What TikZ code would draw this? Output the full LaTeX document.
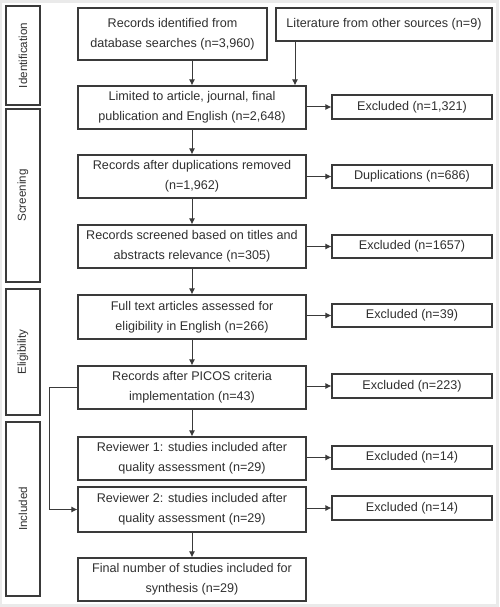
\documentclass[tikz,border=0pt]{standalone}
\usepackage{fontspec}
\setmainfont{Liberation Sans}
\usetikzlibrary{arrows.meta}
\definecolor{ln}{HTML}{3A3A3A}
\definecolor{tx}{HTML}{303030}
\definecolor{bg}{HTML}{EAEAEA}
\tikzset{
  box/.style={draw=ln, line width=1.1pt, fill=white, text=tx, align=center, inner sep=0pt,
    font=\fontsize{12.6}{20}\selectfont},
  phase/.style={draw=ln, line width=1.1pt, fill=white, text=tx, inner sep=0pt,
    font=\fontsize{11.6}{14}\selectfont},
  arr/.style={draw=ln, line width=1pt, -{Latex[length=6pt,width=6pt]}},
}
\begin{document}
\begin{tikzpicture}[x=1pt,y=-1pt]
\fill[bg] (0,0) rectangle (499,607);
\fill[white] (2,3) rectangle (496,604);
\useasboundingbox (0,0) rectangle (499,607);
% phase labels
\node[phase, minimum width=34pt, minimum height=99pt] (ph1) at (23,55.5) {};
\node[rotate=90, text=tx, font=\fontsize{11.6}{14}\selectfont] (ph1t) at (ph1) {Identification};
\node[phase, minimum width=34pt, minimum height=173pt] (ph2) at (23,195.5) {};
\node[rotate=90, text=tx, font=\fontsize{11.6}{14}\selectfont] (ph2t) at (ph2) {Screening};
\node[phase, minimum width=34pt, minimum height=126pt] (ph3) at (23,352) {};
\node[rotate=90, text=tx, font=\fontsize{11.6}{14}\selectfont] (ph3t) at (ph3) {Eligibility};
\node[phase, minimum width=34pt, minimum height=174pt] (ph4) at (23,509) {};
\node[rotate=90, text=tx, font=\fontsize{11.6}{14}\selectfont] (ph4t) at (ph4) {Included};
% main column
\node[box, minimum width=189pt, minimum height=52pt] (b1) at (172.5,34) {Records identified from\\database searches (n=3,960)};
\node[box, minimum width=216pt, minimum height=33pt] (lit) at (384,24.5) {Literature from other sources (n=9)};
\node[box, minimum width=228pt, minimum height=43pt] (b2) at (192,107.5) {Limited to article, journal, final\\publication and English (n=2,648)};
\node[box, minimum width=228pt, minimum height=43pt] (b3) at (192,176.5) {Records after duplications removed\\(n=1,962)};
\node[box, minimum width=228pt, minimum height=43pt] (b4) at (192,246.5) {Records screened based on titles and\\abstracts relevance (n=305)};
\node[box, minimum width=228pt, minimum height=44pt] (b5) at (192,317) {Full text articles assessed for\\eligibility in English (n=266)};
\node[box, minimum width=228pt, minimum height=43pt] (b6) at (192,387.5) {Records after PICOS criteria\\implementation (n=43)};
\node[box, minimum width=228pt, minimum height=43pt] (b7) at (192,458.5) {Reviewer 1: studies included after\\quality assessment (n=29)};
\node[box, minimum width=228pt, minimum height=45pt] (b8) at (192,509.5) {Reviewer 2: studies included after\\quality assessment (n=29)};
\node[box, minimum width=228pt, minimum height=43pt] (b9) at (192,579.5) {Final number of studies included for\\synthesis (n=29)};
% excluded column
\node[box, minimum width=160pt, minimum height=24pt] (e2) at (412,107) {Excluded (n=1,321)};
\node[box, minimum width=160pt, minimum height=23pt] (e3) at (412,176.5) {Duplications (n=686)};
\node[box, minimum width=160pt, minimum height=23pt] (e4) at (412,246.5) {Excluded (n=1657)};
\node[box, minimum width=160pt, minimum height=23pt] (e5) at (412,315.5) {Excluded (n=39)};
\node[box, minimum width=160pt, minimum height=24pt] (e6) at (412,386) {Excluded (n=223)};
\node[box, minimum width=160pt, minimum height=23pt] (e7) at (412,457.5) {Excluded (n=14)};
\node[box, minimum width=160pt, minimum height=24pt] (e8) at (412,508) {Excluded (n=14)};
% connectors
\coordinate (litx) at (295,0);
\draw[arr] (b1.south -| b2) -- (b2.north);
\draw[arr] (lit.south -| litx) -- (b2.north -| litx);
\draw[arr] (b2) -- (b3);
\draw[arr] (b3) -- (b4);
\draw[arr] (b4) -- (b5);
\draw[arr] (b5) -- (b6);
\draw[arr] (b6) -- (b7);
\draw[arr] (b8) -- (b9);
\foreach \i in {2,...,8}{
  \draw[arr] (b\i.east |- e\i) -- (e\i.west);
}
\draw[arr] (b6.west) -- ++(-28,0) |- (b8.west);
\end{tikzpicture}
\end{document}
